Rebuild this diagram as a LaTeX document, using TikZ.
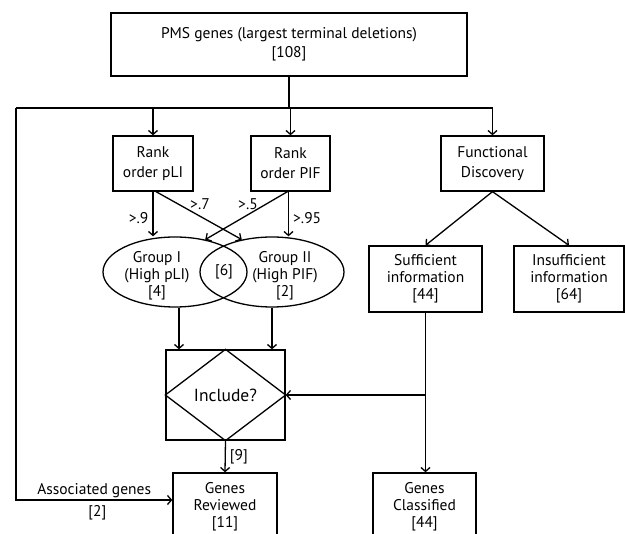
\documentclass[tikz,border=0pt]{standalone}
\usepackage{fontspec}
\setmainfont{PT Sans}
\usetikzlibrary{arrows.meta,shapes.geometric,positioning}

\begin{document}
\begin{tikzpicture}[x=1pt, y=-1pt, line width=1.3pt,
	>={Straight Barb[length=4pt,width=9pt]},
	box/.style={draw, rectangle, align=center, inner sep=0pt},
	txt/.style={font=\fontsize{15.5}{17}\selectfont},
	group/.style={draw, ellipse, inner sep=0pt, minimum width=144pt, minimum height=70pt},
	lab/.style={txt, inner sep=1pt}]
	\useasboundingbox (0,0) rectangle (625,534);
	
	% Boxes
	\node (pms)
	      [ box
	      , minimum width=356pt
	      , minimum height=63pt
	      , font=\fontsize{15.5}{19}\selectfont
	      ]
	      at (289,44.5)
	      {PMS genes (largest terminal deletions)\\{[108]}};
	\node (pli)  [box, minimum width=80pt, minimum height=55pt, font=\fontsize{15.5}{20}\selectfont]
	      at (153,163.5) {Rank\\order pLI};
	\node (pif)  [box, minimum width=79pt, minimum height=55pt, font=\fontsize{15.5}{20}\selectfont]
	      at (290.5,163.5) {Rank\\order PIF};
	\node (func) [box, minimum width=103pt, minimum height=55pt, font=\fontsize{15.5}{20}\selectfont]
	      at (492.5,163.5) {Functional\\Discovery};
	\node (suff) [box, txt, minimum width=113pt, minimum height=66pt]
	      at (425.5,279) {Sufficient\\information\\{[44]}};
	\node (insuff) [box, txt, minimum width=110pt, minimum height=66pt]
	      at (569,279) {Insufficient\\information\\{[64]}};
	\node (incl) [box, minimum width=119pt, minimum height=90pt, font=\fontsize{17.5}{20}\selectfont]
	      at (225.5,395) {Include?};
	\draw (incl.north) -- (incl.east) -- (incl.south) -- (incl.west) -- cycle;
	\node (reviewed)   [box, txt, minimum width=104pt, minimum height=67pt]
	      at (225,506.5) {Genes\\Reviewed\\{[11]}};
	\node (classified) [box, txt, minimum width=103pt, minimum height=67pt]
	      at (424.5,506.5) {Genes\\Classified\\{[44]}};
	
	% Groups
	\node (grpI)  [group] at (175,272) {};
	\node (grpII) [group] at (272,272) {};
	\node (grpItxt)  [txt, align=center] at (157,276) {Group I\\(High pLI)\\{[4]}};
	\node (grpIItxt) [txt, align=center] at (285,276) {Group II\\(High PIF)\\{[2]}};
	\node (both)     [txt] at (224,272) {[6]};
	
	% Links
	\coordinate (left)  at (16,108);
	\coordinate (assoc) at (16,500);
	\draw (pms.south) -- (pms.south |- left);
	\draw (left) -- (func.north |- left);
	\foreach \target in {pli,pif,func}{
		\draw [->] (\target.north |- left) -- (\target.north);
	}
	\draw [->] (left) -- (assoc) -- (assoc -| reviewed.west)
	      node [lab, pos=0.5, above=1pt] {Associated genes}
	      node [lab, pos=0.52, below=4pt] {[2]};
	
	% Thresholds
	\draw [->] (pli.south) -- (pli.south |- grpI.north)
	      node [lab, pos=0.6, left=3pt] {>.9};
	\draw [->] ([xshift=3pt]pli.south) -- (grpII.133)
	      node [lab, pos=0.45, above right=2pt and -6pt] {>.7};
	\draw [->] ([xshift=-3pt]pif.south) -- (grpI.47)
	      node [lab, pos=0.45, above left=2pt and -9pt] {>.5};
	\draw [->] ([xshift=-2pt]pif.south) -- ([xshift=-2pt]pif.south |- grpII.north)
	      node [lab, pos=0.6, right=3pt] {>.95};
	
	% Decision
	\draw [->] ([xshift=4pt]grpI.south) -- ([xshift=4pt]grpI.south |- incl.north);
	\draw [->] (grpII.south) -- (grpII.south |- incl.north);
	\draw [->] (incl.south) -- (reviewed.north)
	      node [lab, midway, right=3pt] {[9]};
	\draw [->] (func.south) -- (suff.north);
	\draw [->] (func.south) -- (insuff.north);
	\draw [->] (suff.south) -- (suff.south |- classified.north);
	\draw [->] (suff.south |- incl.east) -- (incl.east);
\end{tikzpicture}
\end{document}
